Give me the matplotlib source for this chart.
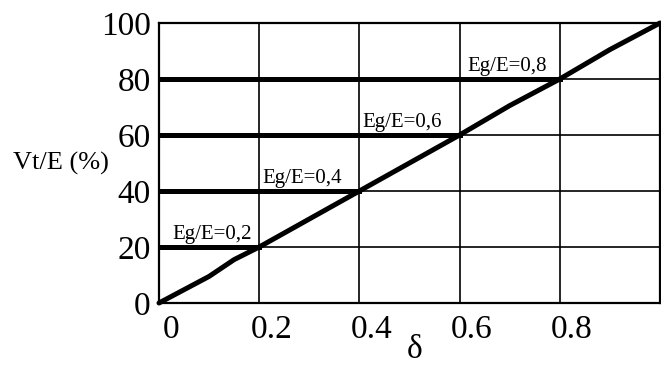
import matplotlib
matplotlib.use("Agg")
import matplotlib.pyplot as plt
from matplotlib.transforms import offset_copy

# duty ratio vs output ratio (slightly hand drawn)
delta = [0.0, 0.10, 0.15, 0.20, 0.30, 0.40, 0.50, 0.60, 0.70, 0.80, 0.90, 1.0]
vt_e = [0.0, 9.5, 15.5, 20.0, 30.0, 40.0, 50.0, 60.0, 70.5, 80.0, 90.5, 100.0]

eg_levels = [0.2, 0.4, 0.6, 0.8]
eg_labels = ["Eg/E=0,2", "Eg/E=0,4", "Eg/E=0,6", "Eg/E=0,8"]
label_x = [0.026, 0.206, 0.405, 0.615]

x_ticks = [0, 0.2, 0.4, 0.6, 0.8, 1]
x_ticklabels = ["0", "0.2", "0.4", "0.6", "0.8", "1"]
y_ticks = [0, 20, 40, 60, 80, 100]

plt.rcParams["font.family"] = ["Liberation Serif", "DejaVu Serif"]

fig = plt.figure(figsize=(6.61, 3.71), dpi=100)
ax = fig.add_axes([159 / 661, 1 - 303 / 371, 501 / 661, 280 / 371])

ax.set_xlim(0, 1)
ax.set_ylim(0, 100)
ax.set_xticks(x_ticks)
ax.set_xticklabels(x_ticklabels)
ax.set_yticks(y_ticks)
ax.grid(True, color="black", lw=1.2)
ax.tick_params(length=0, labelsize=24, pad=6)
ax.tick_params(axis="x", pad=8)
for s in ax.spines.values():
    s.set_linewidth(1.6)

# nudge x tick labels to the right like the original
for lab in ax.get_xticklabels():
    lab.set_transform(offset_copy(lab.get_transform(), fig=fig, x=12, units="dots"))

ax.plot(delta, vt_e, color="black", lw=3.6, solid_capstyle="round", zorder=3, clip_on=False)
for lvl, txt, lx in zip(eg_levels, eg_labels, label_x):
    ax.plot([0, lvl], [lvl * 100, lvl * 100], color="black", lw=3.6, zorder=3)
    ax.text(lx, lvl * 100 + 2.8, txt, fontsize=15, ha="left", va="baseline")

fig.text(13 / 661, 1 - 163 / 371, "Vt/E (%)", fontsize=19, ha="left", va="center")
fig.text(415 / 661, 1 - 350 / 371, "δ", fontsize=24, ha="center", va="center")

fig.savefig("out.png", facecolor="white")
